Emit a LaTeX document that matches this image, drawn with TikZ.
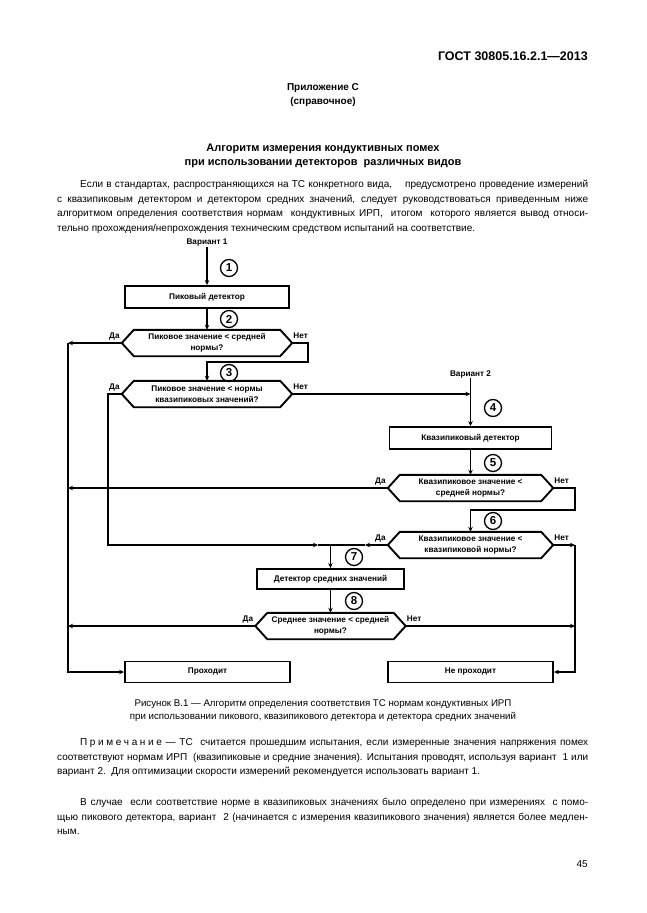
\documentclass[tikz,border=0pt]{standalone}
\usepackage{fontspec}
\setmainfont{Liberation Sans}
\usetikzlibrary{arrows.meta,calc}
\newcommand{\bodyfont}{\fontsize{10}{14.5}\selectfont}
\newcommand{\capfont}{\fontsize{9.7}{14.5}\selectfont}
\newcommand{\dgfont}{\fontsize{8.2}{10.5}\selectfont\bfseries}
\newcommand{\lsp}{\kern2.6pt}
\tikzset{
 flow/.style={line width=1.6pt},
 arr/.style={flow,-{Stealth[length=5pt,width=4.5pt]}},
 box/.style={draw, line width=1.9pt, inner sep=0, font=\dgfont, align=center},
 dec/.style={inner sep=0, font=\dgfont, align=center},
 num/.style={circle, draw, line width=1.3pt, minimum size=17pt, inner sep=0, font=\fontsize{11.5}{11.5}\selectfont\bfseries},
 lbl/.style={inner sep=0, font=\dgfont},
 txt/.style={inner sep=0, font=\bodyfont, anchor=base west},
 ctr/.style={inner sep=0, font=\capfont, anchor=base},
}
\newcommand{\hexa}[1]{\draw[line width=1.9pt, line join=miter] (#1.west) -- ([xshift=12pt]#1.north west) -- ([xshift=-12pt]#1.north east) -- (#1.east) -- ([xshift=-12pt]#1.south east) -- ([xshift=12pt]#1.south west) -- cycle;}
\newcommand{\jl}[4]{\node[txt] (#1) at (#2) {\makebox[#3][s]{#4}};}
\begin{document}
\begin{tikzpicture}[x=1pt,y=-1pt]
\useasboundingbox[fill=white] (0,0) rectangle (646,913);
% header
\node[anchor=base east, inner sep=0, font=\fontsize{12.5}{14}\selectfont\bfseries] (hdr) at (588,60.5) {ГОСТ 30805.16.2.1—2013};
\node[anchor=base, inner sep=0, font=\fontsize{10}{12}\selectfont\bfseries] (app1) at (323,90.5) {Приложение С};
\node[anchor=base, inner sep=0, font=\fontsize{10}{12}\selectfont\bfseries] (app2) at (323,104) {(справочное)};
\node[anchor=base, inner sep=0, font=\fontsize{11}{13}\selectfont\bfseries] (t1) at (323,151) {Алгоритм измерения кондуктивных помех};
\node[anchor=base, inner sep=0, font=\fontsize{11}{13}\selectfont\bfseries] (t2) at (323,165) {при использовании детекторов\ \ различных видов};
% intro paragraph
\jl{pa1}{80,187.5}{508pt}{Если в стандартах, распространяющихся на ТС конкретного вида,\ \ \ \ предусмотрено проведение измерений}
\jl{pa2}{57,202}{531pt}{с квазипиковым детектором и детектором средних значений, следует руководствоваться приведенным ниже}
\jl{pa3}{57,216.5}{531pt}{алгоритмом определения соответствия нормам\ \ кондуктивных ИРП,\ \ итогом\ \ которого является вывод относи-}
\node[txt] (pa4) at (57,231) {тельно прохождения/непрохождения техническим средством испытаний на соответствие.};
% flowchart
\node[lbl] (v1) at (207,243) {Вариант 1};
\node[box, minimum width=164pt, minimum height=22pt] (pk) at (207,297) {Пиковый детектор};
\node[dec, minimum width=170pt, minimum height=26pt] (d2) at (207,343) {Пиковое значение < средней\\нормы?};
\hexa{d2}
\node[dec, minimum width=170pt, minimum height=26pt] (d3) at (207,394) {Пиковое значение < нормы\\квазипиковых значений?};
\hexa{d3}
\node[lbl] (v2) at (470.5,374) {Вариант 2};
\node[box, minimum width=162pt, minimum height=22pt] (qp) at (470.5,438) {Квазипиковый детектор};
\node[dec, minimum width=165pt, minimum height=26pt] (d5) at (470.5,488) {Квазипиковое значение <\\средней нормы?};
\hexa{d5}
\node[dec, minimum width=165pt, minimum height=26pt] (d6) at (470.5,545) {Квазипиковое значение <\\квазипиковой нормы?};
\hexa{d6}
\node[box, minimum width=147pt, minimum height=20pt] (av) at (330.5,579) {Детектор средних значений};
\node[dec, minimum width=150pt, minimum height=26pt] (d8) at (330.5,626) {Среднее значение < средней\\нормы?};
\hexa{d8}
\node[box, minimum width=165pt, minimum height=21pt] (pass) at (207.5,672) {Проходит};
\node[box, minimum width=165pt, minimum height=21pt] (fail) at (470.5,672) {Не проходит};
% numbers
\node[num] (n1) at (229,268) {1};
\node[num] (n2) at (229,319) {2};
\node[num] (n3) at (229,373) {3};
\node[num] (n4) at (493,408) {4};
\node[num] (n5) at (493,463) {5};
\node[num] (n6) at (493,521) {6};
\node[num] (n7) at (354,557) {7};
\node[num] (n8) at (354,601) {8};
% yes/no labels
\foreach \d in {d2,d3,d5,d6,d8}{
 \node[lbl, anchor=east] (\d y) at ([xshift=-2pt,yshift=7pt]\d.west) {Да};
 \node[lbl, anchor=west] (\d n) at ([xshift=1pt,yshift=7pt]\d.east) {Нет};
}
% coordinates
\coordinate (r2) at (308,343);
\coordinate (r2b) at (308,362);
\coordinate (L2) at (68,343);
\coordinate (L3) at (108,394);
\coordinate (J4) at (470.5,394);
\coordinate (L5) at (68,488);
\coordinate (R5) at (575,488);
\coordinate (R5b) at (575,510);
\coordinate (R6) at (575,545);
\coordinate (J7) at (330.5,545);
\coordinate (a7l) at (318,545);
\coordinate (a7r) at (365,545);
\coordinate (L8) at (68,626);
\coordinate (R8) at (575,626);
% connectors
\draw[arr] (v1.south) -- (pk.north);
\draw[arr] (pk.south) -- (d2.north);
\draw[arr] (d2.east) -- (r2) -- (r2b) -| (d3.north);
\draw[arr] (d2.west) -- (L2);
\draw[arr] (L2) |- (pass.west);
\draw[arr] (d3.west) -- (L3) |- (a7l);
\draw[flow] (a7l) -- (J7);
\draw[arr] (d3.east) -- (J4);
\draw[arr] (v2.south) -- (qp.north);
\draw[arr] (qp.south) -- (d5.north);
\draw[arr] (d5.west) -- (L5);
\draw[arr] (d5.east) -- (R5) -- (R5b) -| (d6.north);
\draw[arr] (d6.west) -- (a7r);
\draw[flow] (a7r) -- (J7);
\draw[arr] (d6.east) -- (R6);
\draw[arr] (R6) |- (fail.east);
\draw[arr] (J7) -- (av.north);
\draw[arr] (av.south) -- (d8.north);
\draw[arr] (d8.west) -- (L8);
\draw[arr] (d8.east) -- (R8);
% caption
\node[ctr] (cap1) at (323,706.5) {Рисунок В.1 — Алгоритм определения соответствия ТС нормам кондуктивных ИРП};
\node[ctr] (cap2) at (323,719.5) {при использовании пикового, квазипикового детектора и детектора средних значений};
% note
\jl{nb1}{80,745.5}{508pt}{П\lsp р\lsp и\lsp м\lsp е\lsp ч\lsp а\lsp н\lsp и\lsp е — ТС\ \ считается прошедшим испытания, если измеренные значения напряжения помех}
\jl{nb2}{57,760}{531pt}{соответствуют нормам ИРП\ \ (квазипиковые и средние значения). Испытания проводят, используя вариант\ \ 1 или}
\node[txt] (nb3) at (57,774.5) {вариант 2.\ \ Для оптимизации скорости измерений рекомендуется использовать вариант 1.};
% second paragraph
\jl{pb1}{80,805.5}{508pt}{В случае\ \ если соответствие норме в квазипиковых значениях было определено при измерениях\ \ с помо-}
\jl{pb2}{57,820}{531pt}{щью пикового детектора, вариант\ \ 2 (начинается с измерения квазипикового значения) является более медлен-}
\node[txt] (pb3) at (57,834.5) {ным.};
\node[anchor=base east, inner sep=0, font=\bodyfont] (pg) at (588,867) {45};
\end{tikzpicture}
\end{document}
